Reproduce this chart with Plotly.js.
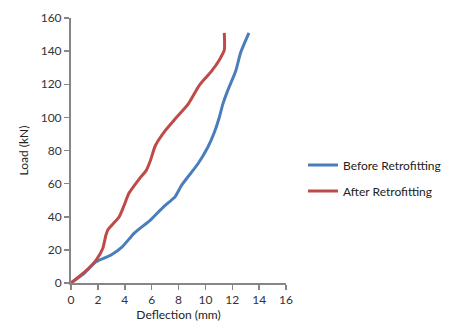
<!DOCTYPE html>
<html>
<head>
<meta charset="utf-8">
<script src="https://cdn.plot.ly/plotly-3.0.1.min.js"></script>
<style>html,body{margin:0;padding:0;background:#fff;}#chart{width:458px;height:329px;}</style>
</head>
<body>
<div id="chart"></div>
<script>
const beforeX = [0, 1.0, 1.88, 2.98, 3.83, 4.69, 5.91, 6.89, 7.74, 8.23, 9.45, 10.18, 10.67, 11.0, 11.3, 11.65, 12.26, 12.62, 13.24];
const beforeY = [0, 6, 12.9, 16.9, 22, 30, 38, 46, 52, 59, 72, 82, 91, 99, 108, 116, 128, 139, 151];
const afterX = [0, 1.0, 1.88, 2.37, 2.6, 2.74, 3.59, 3.96, 4.3, 5.1, 5.6, 5.91, 6.28, 7.01, 7.74, 8.72, 9.57, 10.43, 11.04, 11.41, 11.41];
const afterY = [0, 6.5, 14, 21, 29, 32, 40, 47, 54, 63, 68, 74, 83, 92, 99, 108, 119.6, 127.6, 134.7, 140.7, 151];
const seriesNames = ['Before Retrofitting', 'After Retrofitting'];
const xTitle = 'Deflection (mm)';
const yTitle = 'Load (kN)';

const font = 'Lato, "DejaVu Sans", sans-serif';
const traces = [
  {x: beforeX, y: beforeY, name: seriesNames[0], mode: 'lines', legendgroup: 'a',
   line: {color: '#4a7ebb', width: 3, shape: 'spline', smoothing: 0.5}},
  {x: afterX, y: afterY, name: seriesNames[1], mode: 'lines', legendgroup: 'b',
   line: {color: '#be4b48', width: 3, shape: 'spline', smoothing: 0.5}}
];
const axisCommon = {
  showgrid: false, zeroline: false, showline: true, linecolor: '#868686', linewidth: 2,
  ticks: 'outside', ticklen: 5, tickwidth: 1.5, tickcolor: '#868686',
  tickfont: {family: font, size: 12, color: '#333'}
};
const layout = {
  width: 458, height: 329,
  margin: {l: 71, r: 168, t: 18, b: 46},
  paper_bgcolor: '#fff', plot_bgcolor: '#fff',
  font: {family: font, color: '#222'},
  xaxis: Object.assign({}, axisCommon, {range: [0, 16], dtick: 2,
    title: {text: xTitle, font: {family: font, size: 12, color: '#222'}, standoff: 4}}),
  yaxis: Object.assign({}, axisCommon, {range: [0, 160], dtick: 20,
    title: {text: yTitle, font: {family: font, size: 12, color: '#222'}, standoff: 10}}),
  showlegend: true,
  legend: {x: 1.079, y: 0.396, xanchor: 'left', yanchor: 'middle', traceorder: 'grouped', tracegroupgap: 7,
    font: {family: font, size: 12, color: '#222'}, bgcolor: 'rgba(0,0,0,0)'}
};
Plotly.newPlot('chart', traces, layout, {displayModeBar: false, staticPlot: true});
</script>
</body>
</html>
